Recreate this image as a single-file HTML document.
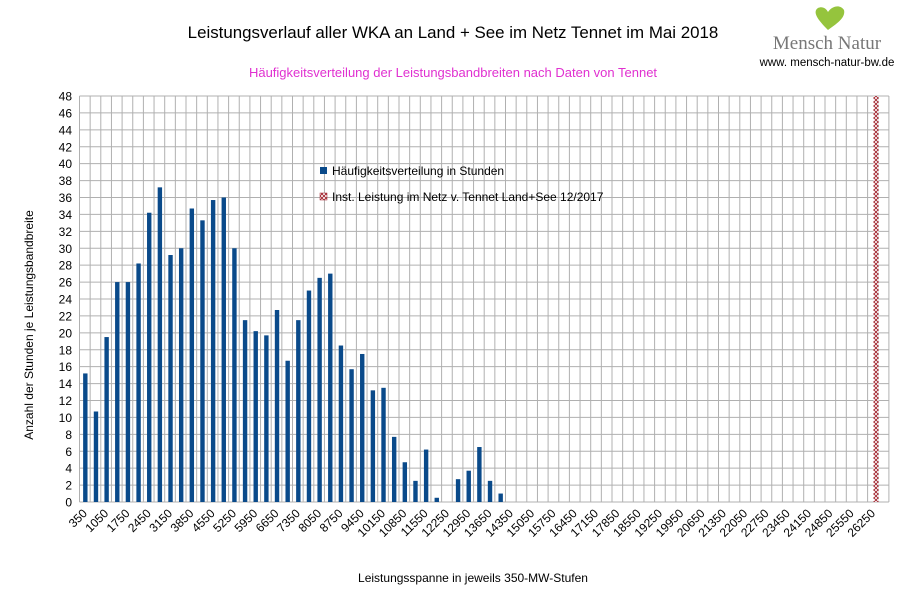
<!DOCTYPE html>
<html><head><meta charset="utf-8"><style>
body{margin:0;background:#fff;width:907px;height:605px;overflow:hidden}
svg{font-family:"Liberation Sans",sans-serif}
</style></head><body>
<svg width="907" height="605" xmlns="http://www.w3.org/2000/svg">
<defs><pattern id="hx" width="4" height="4" patternUnits="userSpaceOnUse"><rect width="4" height="4" fill="#fff"/><path d="M0 0L4 4M4 0L0 4" stroke="#a0202a" stroke-width="0.9"/></pattern></defs>
<text x="453" y="38" font-size="16.9" text-anchor="middle" fill="#000">Leistungsverlauf aller WKA an Land + See im Netz Tennet im Mai 2018</text>
<text x="453" y="77" font-size="13" text-anchor="middle" fill="#e030d0">Häufigkeitsverteilung der Leistungsbandbreiten nach Daten von Tennet</text>
<path d="M828 30 C818 20 812 12 818 8 C822 6 826 8 828 12 C832 6 840 4 844 10 C846 18 836 24 828 30 Z" fill="#95c43d"/>
<text x="827" y="49" font-size="19" text-anchor="middle" fill="#777" font-family="Liberation Serif">Mensch Natur</text>
<text x="827" y="66" font-size="11.5" text-anchor="middle" fill="#000">www. mensch-natur-bw.de</text>
<g id="grid" stroke="#b0b0b0" stroke-width="1"></g>
<g id="bars"></g>
<g id="lab" font-size="12" fill="#000"></g>
<rect x="320" y="167" width="7" height="7" fill="#0a4a8a"/>
<text x="332" y="175" font-size="12">Häufigkeitsverteilung in Stunden</text>
<rect x="320" y="193" width="7" height="7" fill="url(#hx)" stroke="#a0202a" stroke-width="0.5"/>
<text x="332" y="201" font-size="12">Inst. Leistung im Netz v. Tennet  Land+See 12/2017</text>
<text transform="translate(33,325) rotate(-90)" font-size="12" text-anchor="middle">Anzahl der Stunden je Leistungsbandbreite</text>
<text x="473" y="582" font-size="12" text-anchor="middle">Leistungsspanne in jeweils 350-MW-Stufen</text>
</svg>
<script>
var NS="http://www.w3.org/2000/svg";
function el(p,t,a,txt){var e=document.createElementNS(NS,t);for(var k in a)e.setAttribute(k,a[k]);if(txt!=null)e.textContent=txt;p.appendChild(e);return e;}
var x0=79.5,cw=10.65,n=76,y0=502,u=406/48,x1=x0+n*cw;
var g=document.getElementById('grid'),b=document.getElementById('bars'),l=document.getElementById('lab');
for(var v=0;v<=48;v+=2){var y=y0-v*u;el(g,'line',{x1:x0,x2:x1,y1:y,y2:y});el(l,'text',{x:72,y:y+4.5,'text-anchor':'end'},v);}
for(var i=0;i<=n;i++){var x=x0+i*cw;el(g,'line',{x1:x,x2:x,y1:y0-48*u,y2:y0});}
var d=[15.2,10.7,19.5,26,26,28.2,34.2,37.2,29.2,30,34.7,33.3,35.7,36,30,21.5,20.2,19.7,22.7,16.7,21.5,25,26.5,27,18.5,15.7,17.5,13.2,13.5,7.7,4.7,2.5,6.2,0.5,0,2.7,3.7,6.5,2.5,1];
d.forEach(function(v,i){if(v>0)el(b,'rect',{x:x0+i*cw+cw/2-1.7,y:y0-v*u,width:4.4,height:v*u,fill:'#0a4a8a'});});
el(b,'rect',{x:873.5,y:y0-48*u,width:5,height:48*u,fill:'url(#hx)'});
for(var i=0;i<75;i+=2){var cx=x0+i*cw+cw/2+3;el(l,'text',{x:cx,y:y0+12,'text-anchor':'end',transform:'rotate(-45 '+cx+' '+(y0+12)+')'},350*(i+1));}
</script>
</body></html>
